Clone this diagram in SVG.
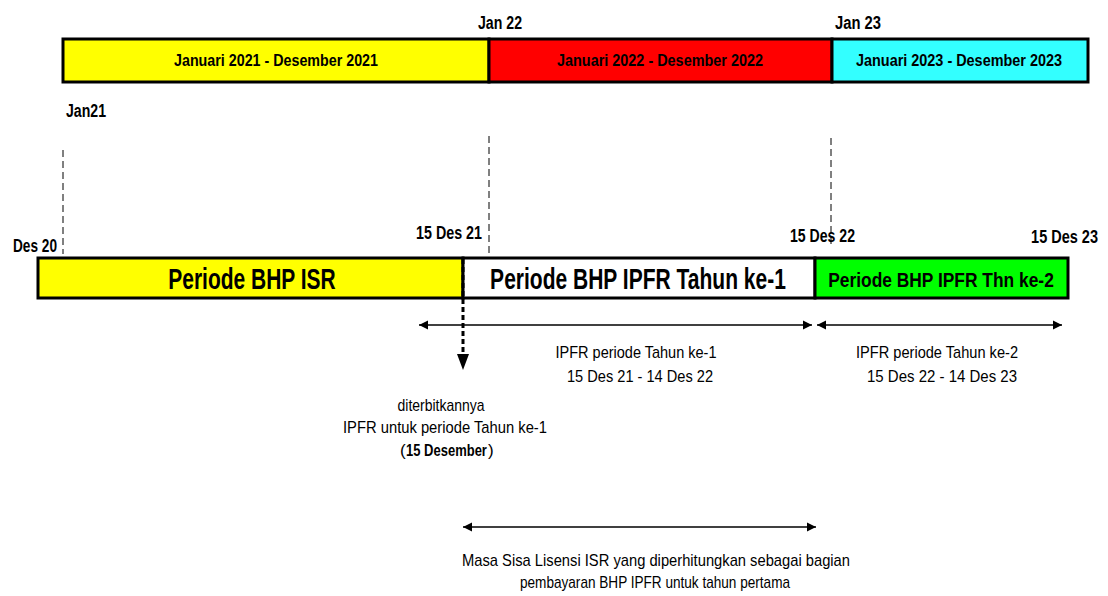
<svg xmlns="http://www.w3.org/2000/svg" width="1108" height="596" viewBox="0 0 1108 596">
<defs>
<marker id="ah" viewBox="0 0 10 10" refX="10" refY="5" markerWidth="9" markerHeight="10" markerUnits="userSpaceOnUse" orient="auto-start-reverse"><path d="M0,0 L10,5 L0,10 Z" fill="#000"/></marker>
<style>
text{font-family:"Liberation Sans",Arial,sans-serif;fill:#000}
.b{font-weight:bold}
.lbl{font-size:17px;font-weight:bold}
.dt{font-size:18px;font-weight:bold}
.big{font-size:29px;font-weight:bold}
.n{font-size:17px}
.box{stroke:#000;stroke-width:3}
.dash{stroke:#000;stroke-width:1;stroke-dasharray:7,4;fill:none}
.arr{stroke:#000;stroke-width:1.5;fill:none;marker-start:url(#ah);marker-end:url(#ah)}
</style>
</defs>
<rect width="1108" height="596" fill="#fff"/>
<g id="top-bar">
<rect class="box" x="63" y="39" width="426" height="43" fill="#ffff00"/>
<rect class="box" x="489" y="39" width="343" height="43" fill="#ff0000"/>
<rect class="box" x="832" y="39" width="256" height="43" fill="#33ffff"/>
<text class="lbl" x="276" y="66" text-anchor="middle" textLength="204" lengthAdjust="spacingAndGlyphs">Januari 2021 - Desember 2021</text>
<text class="lbl" x="660" y="66" text-anchor="middle" textLength="206" lengthAdjust="spacingAndGlyphs">Januari 2022 - Desember 2022</text>
<text class="lbl" x="959" y="66" text-anchor="middle" textLength="206" lengthAdjust="spacingAndGlyphs">Januari 2023 - Desember 2023</text>
</g>
<g id="date-labels">
<text class="dt" x="478" y="29" textLength="44" lengthAdjust="spacingAndGlyphs">Jan 22</text>
<text class="dt" x="835" y="29" textLength="46" lengthAdjust="spacingAndGlyphs">Jan 23</text>
<text class="dt" x="66" y="117" textLength="40" lengthAdjust="spacingAndGlyphs">Jan21</text>
<text class="dt" x="13" y="252" textLength="44" lengthAdjust="spacingAndGlyphs">Des 20</text>
<text class="dt" x="482" y="239" text-anchor="end" textLength="66" lengthAdjust="spacingAndGlyphs">15 Des 21</text>
<text class="dt" x="790" y="242" textLength="65" lengthAdjust="spacingAndGlyphs">15 Des 22</text>
<text class="dt" transform="translate(1098,243) scale(0.806,1)" x="0" y="0" text-anchor="end">15 Des 23</text>
</g>
<g id="guides">
<line class="dash" x1="63" y1="150" x2="63" y2="254"/>
<line class="dash" x1="489" y1="136" x2="489" y2="254"/>
<line class="dash" x1="831" y1="138" x2="831" y2="248"/>
</g>
<g id="bottom-bar">
<rect class="box" x="38" y="258" width="425" height="40" fill="#ffff00"/>
<rect class="box" x="463" y="258" width="352" height="40" fill="#ffffff"/>
<rect class="box" x="815" y="258" width="253" height="40" fill="#00ff00"/>
<text class="big" transform="translate(252,289) scale(0.724,1)" x="0" y="0" text-anchor="middle">Periode BHP ISR</text>
<text class="big" transform="translate(638,289) scale(0.725,1)" x="0" y="0" text-anchor="middle">Periode BHP IPFR Tahun ke-1</text>
<text class="b" style="font-size:21px" transform="translate(941,287) scale(0.828,1)" x="0" y="0" text-anchor="middle">Periode BHP IPFR Thn ke-2</text>
</g>
<g id="connectors">
<line x1="463" y1="259" x2="463" y2="356" stroke="#000" stroke-width="3" stroke-dasharray="5,3"/>
<path d="M457,354 L469,354 L463,370 Z" fill="#000"/>
<line class="arr" x1="419" y1="325" x2="812" y2="325"/>
<line class="arr" x1="817" y1="325" x2="1062" y2="325"/>
<line class="arr" x1="463" y1="527" x2="816" y2="527"/>
</g>
<g id="texts">
<text class="n" x="636" y="358" text-anchor="middle" textLength="161" lengthAdjust="spacingAndGlyphs">IPFR periode Tahun ke-1</text>
<text class="n" x="640" y="382" text-anchor="middle" textLength="146" lengthAdjust="spacingAndGlyphs">15 Des 21 - 14 Des 22</text>
<text class="n" x="937" y="358" text-anchor="middle" textLength="162" lengthAdjust="spacingAndGlyphs">IPFR periode Tahun ke-2</text>
<text class="n" x="942" y="382" text-anchor="middle" textLength="150" lengthAdjust="spacingAndGlyphs">15 Des 22 - 14 Des 23</text>
<text class="n" x="441" y="411" text-anchor="middle" textLength="87" lengthAdjust="spacingAndGlyphs">diterbitkannya</text>
<text class="n" x="445" y="433" text-anchor="middle" textLength="204" lengthAdjust="spacingAndGlyphs">IPFR untuk periode Tahun ke-1</text>
<text class="n" x="400" y="456">(</text>
<text class="n b" transform="translate(406,456) scale(0.765,1)" x="0" y="0">15 Desember</text>
<text class="n" x="488" y="456">)</text>
<text class="n" x="656" y="566" text-anchor="middle" textLength="388" lengthAdjust="spacingAndGlyphs">Masa Sisa Lisensi ISR yang diperhitungkan sebagai bagian</text>
<text class="n" x="655" y="588" text-anchor="middle" textLength="270" lengthAdjust="spacingAndGlyphs">pembayaran BHP IPFR untuk tahun pertama</text>
</g>
</svg>
